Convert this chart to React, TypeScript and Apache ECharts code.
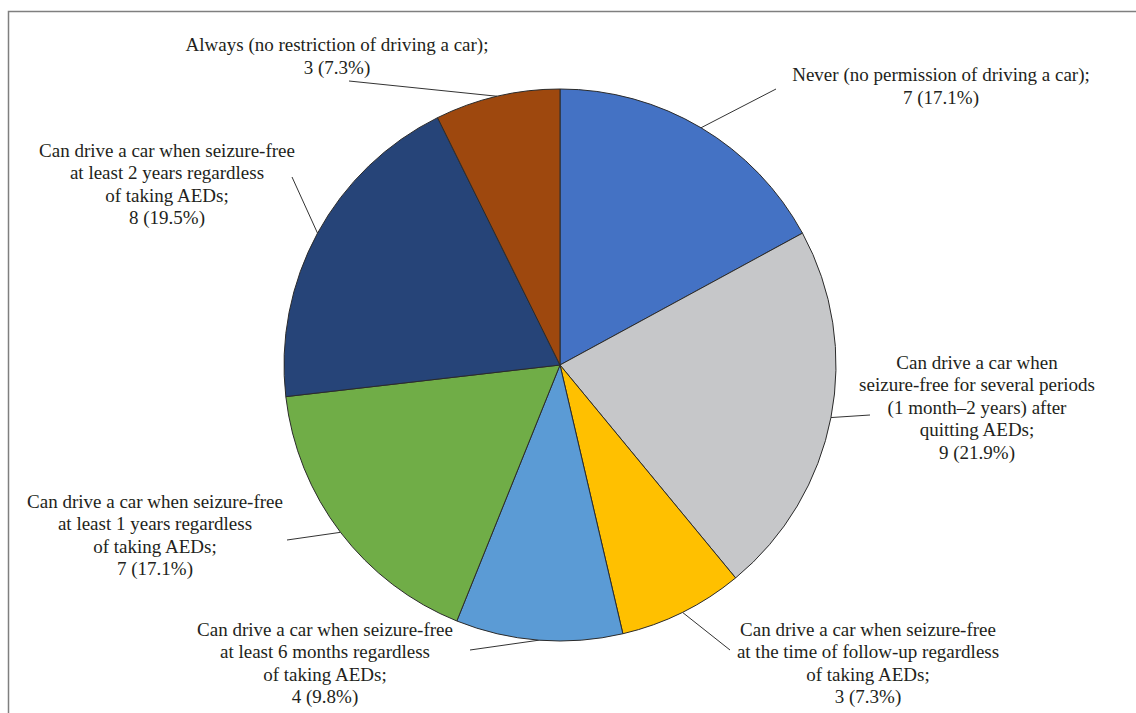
import React, { useEffect, useRef } from "react";
import * as echarts from "echarts";

// ---- data ----
const categories: string[] = [
  "Never (no permission of driving a car)",
  "Can drive a car when\nseizure-free for several periods\n(1 month\u20132 years) after\nquitting AEDs",
  "Can drive a car when seizure-free\nat the time of follow-up regardless\nof taking AEDs",
  "Can drive a car when seizure-free\nat least 6 months regardless\nof taking AEDs",
  "Can drive a car when seizure-free\nat least 1 years regardless\nof taking AEDs",
  "Can drive a car when seizure-free\nat least 2 years regardless\nof taking AEDs",
  "Always (no restriction of driving a car)",
];
const counts: number[] = [7, 9, 3, 4, 7, 8, 3];
const percents: string[] = ["17.1%", "21.9%", "7.3%", "9.8%", "17.1%", "19.5%", "7.3%"];

// ---- styling / layout (not data) ----
const colors = ["#4472C4", "#C6C7C9", "#FFC000", "#5B9BD5", "#70AD47", "#264478", "#9E480E"];
// label block centres and leader-line end points
const labelCenters: number[][] = [
  [941, 86],
  [977, 407],
  [868, 663],
  [325, 663],
  [155, 535],
  [167, 184],
  [337, 56],
];
const leaderEnds: number[][] = [
  [776, 89],
  [870, 415],
  [730, 650],
  [470, 650],
  [287, 540],
  [292, 177],
  [349, 81],
];

export default function App() {
  const ref = useRef<HTMLDivElement>(null);
  useEffect(() => {
    document.body.style.margin = "0";
    if (!ref.current) return;
    const chart = echarts.init(ref.current, undefined, { renderer: "svg" });
    const option: any = {
      animation: false,
      backgroundColor: "#ffffff",
      graphic: [
        {
          type: "rect",
          silent: true,
          shape: { x: 8.5, y: 11.5, width: 1200, height: 800 },
          style: { fill: "none", stroke: "#7f7f7f", lineWidth: 1.5 },
        },
      ],
      series: [
        {
          type: "pie",
          center: [560, 365],
          radius: 276,
          startAngle: 90,
          clockwise: true,
          avoidLabelOverlap: false,
          data: categories.map((name, i) => ({
            name,
            value: counts[i],
            itemStyle: { color: colors[i] },
          })),
          itemStyle: { borderColor: "#2b2b2b", borderWidth: 1 },
          label: {
            show: true,
            position: "outside",
            fontFamily: "Liberation Serif",
            fontSize: 19,
            lineHeight: 22.5,
            color: "#231f20",
            align: "center",
            formatter: (p: any) =>
              categories[p.dataIndex] + ";\n" + counts[p.dataIndex] + " (" + percents[p.dataIndex] + ")",
          },
          labelLine: {
            show: true,
            lineStyle: { color: "#333333", width: 1 },
          },
          labelLayout: (params: any) => {
            const i = params.dataIndex;
            const start = params.labelLinePoints ? params.labelLinePoints[0] : leaderEnds[i];
            const end = leaderEnds[i];
            return {
              x: labelCenters[i][0],
              y: labelCenters[i][1],
              align: "center",
              verticalAlign: "middle",
              labelLinePoints: [start, end, end],
            };
          },
          emphasis: { disabled: true },
        },
      ],
    };
    chart.setOption(option);
    return () => chart.dispose();
  }, []);
  return <div ref={ref} style={{ width: 1136, height: 713 }} />;
}
